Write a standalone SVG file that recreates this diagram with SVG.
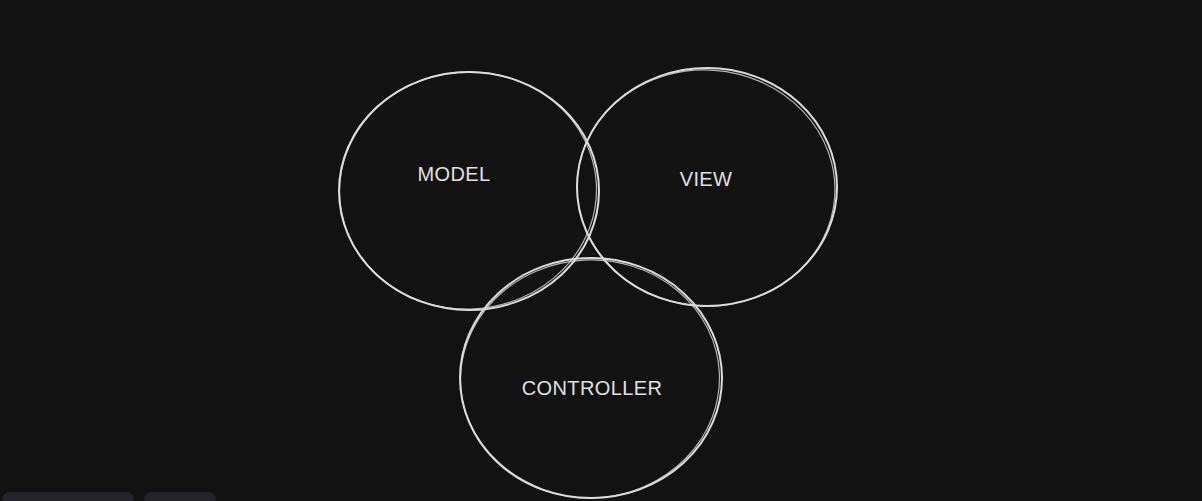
<svg xmlns="http://www.w3.org/2000/svg" width="1202" height="501" viewBox="0 0 1202 501">
<style>
.c{fill:none;stroke:#dcdcdc;stroke-width:2;stroke-linecap:round}
.c2{fill:none;stroke:#dcdcdc;stroke-width:1.2;opacity:0.8}
.t{font-family:"Liberation Sans",Arial,sans-serif;font-size:20px;fill:#e0e0e0;text-anchor:middle;letter-spacing:0.4px}
.ui{fill:#232329}
</style>
<rect width="1202" height="501" fill="#121212"/>
<g id="model">
<ellipse class="c" cx="469" cy="191" rx="130" ry="119"/>
<ellipse class="c2" cx="468" cy="190.5" rx="128.5" ry="118.5" transform="rotate(-3 468 190)"/>
<text class="t" x="454" y="181">MODEL</text>
</g>
<g id="view">
<ellipse class="c" cx="707" cy="187" rx="130" ry="119"/>
<ellipse class="c2" cx="706" cy="188" rx="129" ry="118" transform="rotate(4 706 188)"/>
<text class="t" x="706" y="186">VIEW</text>
</g>
<g id="controller">
<ellipse class="c" cx="591" cy="378" rx="131" ry="120"/>
<ellipse class="c2" cx="590" cy="379" rx="129.5" ry="119" transform="rotate(-3 590 379)"/>
<text class="t" x="592" y="395">CONTROLLER</text>
</g>
<g id="connectors"></g>
<rect class="ui" x="2" y="492" width="132" height="20" rx="8"/>
<rect class="ui" x="144" y="492" width="72" height="20" rx="8"/>
</svg>
